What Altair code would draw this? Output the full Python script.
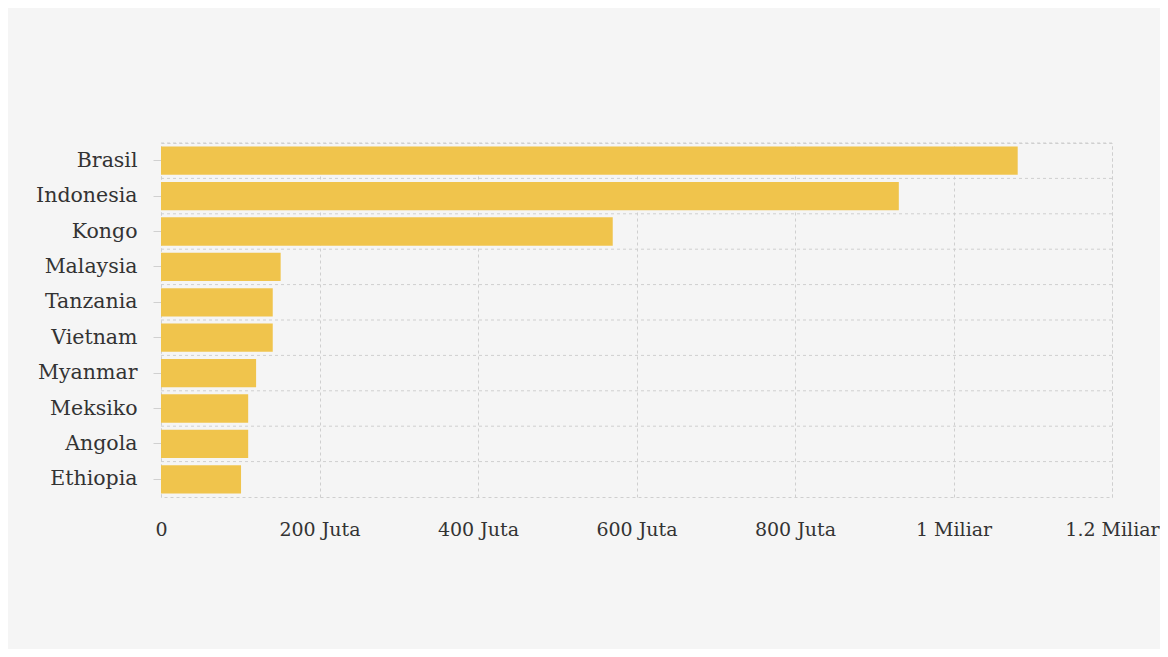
import altair as alt
import pandas as pd

countries = ["Brasil", "Indonesia", "Kongo", "Malaysia", "Tanzania",
             "Vietnam", "Myanmar", "Meksiko", "Angola", "Ethiopia"]
values = [1.081e9, 0.931e9, 0.570e9, 0.151e9, 0.141e9,
          0.141e9, 0.120e9, 0.110e9, 0.110e9, 0.101e9]
x_ticks = [0, 2e8, 4e8, 6e8, 8e8, 1e9, 1.2e9]

df = pd.DataFrame({"country": countries, "value": values})

FONT = "DejaVu Serif"
GRID = "#cfcfcf"
H = 354
STEP = H / 10.0

yscale = alt.Scale(domain=countries, paddingInner=0.2, paddingOuter=0.1)
xscale = alt.Scale(domain=[0, 1.2e9], nice=False)

label_expr = ("datum.value == 0 ? '0' : (datum.value < 1e9 ? "
              "format(datum.value / 1e6, 'd') + ' Juta' : "
              "format(datum.value / 1e9, '') + ' Miliar')")

xaxis = alt.Axis(
    values=x_ticks, labelExpr=label_expr, title=None, domain=False,
    ticks=False, grid=True, gridColor=GRID, gridDash=[3, 3],
    gridWidth=1, labelPadding=23, labelFont=FONT, labelFontSize=19,
    labelColor="#333333", labelFlush=False, labelOverlap=False)
yaxis = alt.Axis(
    title=None, domain=False, grid=False, ticks=True, tickSize=8,
    tickColor="#d0d0d0", labelPadding=16, labelFont=FONT,
    labelFontSize=20.5, labelColor="#333333")

hgrid = alt.Chart(df).mark_rule(
    color=GRID, strokeDash=[3, 3], strokeWidth=1, yOffset=-STEP * 0.1
).encode(
    y=alt.Y("country:N", sort=countries, scale=yscale, bandPosition=0,
            axis=yaxis),
)

bars = alt.Chart(df).mark_bar(color="#F0C44C").encode(
    x=alt.X("value:Q", scale=xscale, axis=xaxis),
    y=alt.Y("country:N", sort=countries, scale=yscale, axis=yaxis),
)

chart = alt.layer(hgrid, bars).properties(
    width=951, height=H,
    autosize=alt.AutoSizeParams(type="none"),
    padding={"left": 153, "top": 135, "right": 48, "bottom": 152},
    background="#f5f5f5",
).configure_view(stroke=GRID, strokeDash=[3, 3], strokeWidth=1)

chart.save("out.html", embed_options={"renderer": "svg", "actions": False})
